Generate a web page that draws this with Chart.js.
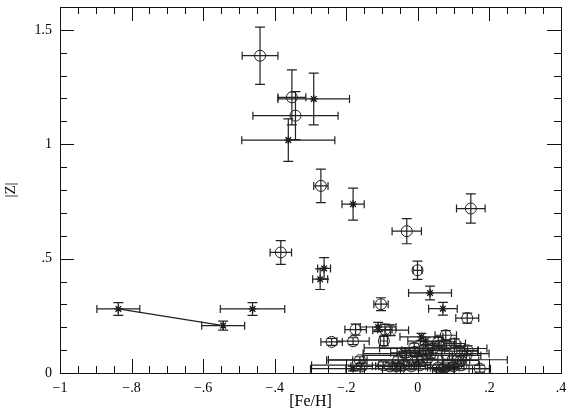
<!DOCTYPE html>
<html>
<head>
<meta charset="utf-8">
<script src="https://cdn.jsdelivr.net/npm/chart.js@4.4.1/dist/chart.umd.min.js"></script>
<style>
  body { margin: 0; background: #fff; }
</style>
</head>
<body>
<canvas id="zChart" width="570" height="410"></canvas>
<script>
// open circles: [Fe/H], |Z| and their errors
var circX    = [-0.441, -0.352, -0.342, -0.271, 0.148, -0.031, -0.383, -0.001, -0.103, 0.138,
                -0.174, -0.092, -0.076, -0.241, -0.181, -0.095,
                0.057, 0.078, 0.080, 0.103, 0.117, 0.136, 0.139, 0.043, 0.015, -0.008,
                -0.032, -0.055, -0.162, -0.157, -0.097, -0.078, -0.060, -0.041, -0.018, 0.006,
                0.057, 0.075, 0.099, 0.122, 0.173, -0.036, -0.010, 0.036, 0.061, 0.098,
                0.120, 0.026, 0.000, -0.050, 0.023];
var circY    = [1.387, 1.205, 1.125, 0.818, 0.719, 0.620, 0.527, 0.449, 0.301, 0.240,
                0.190, 0.190, 0.187, 0.136, 0.139, 0.140,
                0.136, 0.165, 0.121, 0.129, 0.096, 0.077, 0.099, 0.107, 0.099, 0.092,
                0.077, 0.056, 0.056, 0.029, 0.034, 0.029, 0.029, 0.034, 0.029, 0.034,
                0.024, 0.024, 0.029, 0.034, 0.019, 0.088, 0.110, 0.085, 0.120, 0.060,
                0.055, 0.060, 0.058, 0.019, 0.085];
var circXErr = [0.050, 0.039, 0.119, 0.020, 0.040, 0.041, 0.030, 0.012, 0.020, 0.032,
                0.030, 0.020, 0.050, 0.030, 0.045, 0.010,
                0.050, 0.030, 0.040, 0.030, 0.050, 0.040, 0.030, 0.150, 0.060, 0.050,
                0.120, 0.200, 0.020, 0.030, 0.200, 0.040, 0.050, 0.030, 0.040, 0.030,
                0.030, 0.040, 0.030, 0.050, 0.030, 0.040, 0.140, 0.030, 0.040, 0.030,
                0.050, 0.030, 0.250, 0.250, 0.176];
var circYErr = [0.125, 0.120, 0.105, 0.073, 0.064, 0.055, 0.052, 0.040, 0.028, 0.022,
                0.024, 0.024, 0.024, 0.015, 0.015, 0.020,
                0.020, 0.020, 0.020, 0.020, 0.020, 0.020, 0.020, 0.020, 0.020, 0.020,
                0.020, 0.015, 0.015, 0.015, 0.015, 0.015, 0.015, 0.015, 0.015, 0.015,
                0.015, 0.015, 0.015, 0.015, 0.015, 0.020, 0.020, 0.020, 0.020, 0.015,
                0.015, 0.015, 0.015, 0.010, 0.015];

// asterisks
var starX    = [-0.291, -0.362, -0.181, -0.262, -0.273, 0.034, 0.070, -0.837, -0.544, -0.462,
                -0.111, 0.010, 0.022, -0.181, 0.071];
var starY    = [1.198, 1.018, 0.738, 0.457, 0.410, 0.350, 0.281, 0.280, 0.207, 0.280,
                0.201, 0.158, 0.139, 0.019, 0.015];
var starXErr = [0.100, 0.130, 0.031, 0.018, 0.021, 0.060, 0.040, 0.060, 0.060, 0.090,
                0.050, 0.060, 0.050, 0.020, 0.030];
var starYErr = [0.113, 0.093, 0.070, 0.047, 0.045, 0.030, 0.028, 0.028, 0.020, 0.028,
                0.020, 0.015, 0.015, 0.010, 0.010];

// the two joined asterisks
var linkX = [-0.837, -0.544];
var linkY = [0.280, 0.207];

var xTickValues = [-1, -0.8, -0.6, -0.4, -0.2, 0, 0.2, 0.4];
var xTickLabels = ['\u22121', '\u2212.8', '\u2212.6', '\u2212.4', '\u2212.2', '0', '.2', '.4'];
var yTickValues = [0, 0.5, 1, 1.5];
var yTickLabels = ['0', '.5', '1', '1.5'];

function pts(xs, ys) {
    return xs.map(function (x, i) { return { x: x, y: ys[i] }; });
}

var serif = 'Liberation Serif';

// error bars with caps, drawn through the markers
var errorBars = {
    id: 'errorBars',
    afterDatasetsDraw: function (chart) {
        var ctx = chart.ctx, xs = chart.scales.x, ys = chart.scales.y, a = chart.chartArea;
        ctx.save();
        ctx.beginPath();
        ctx.rect(a.left, a.top, a.right - a.left, a.bottom - a.top);
        ctx.clip();
        ctx.lineWidth = 1.2;
        ctx.strokeStyle = '#222';
        chart.data.datasets.forEach(function (ds) {
            if (!ds.xErr) return;
            ds.data.forEach(function (p, i) {
                var px = xs.getPixelForValue(p.x), py = ys.getPixelForValue(p.y);
                var x0 = xs.getPixelForValue(p.x - ds.xErr[i]), x1 = xs.getPixelForValue(p.x + ds.xErr[i]);
                var y0 = ys.getPixelForValue(p.y - ds.yErr[i]), y1 = ys.getPixelForValue(p.y + ds.yErr[i]);
                ctx.beginPath();
                ctx.moveTo(x0, py); ctx.lineTo(x1, py);
                ctx.moveTo(x0, py - 4); ctx.lineTo(x0, py + 4);
                ctx.moveTo(x1, py - 4); ctx.lineTo(x1, py + 4);
                ctx.moveTo(px, y0); ctx.lineTo(px, y1);
                ctx.moveTo(px - 5, y0); ctx.lineTo(px + 5, y0);
                ctx.moveTo(px - 5, y1); ctx.lineTo(px + 5, y1);
                ctx.stroke();
            });
        });
        ctx.restore();
    }
};

// box round the plot with inward ticks on all four sides
var frameTicks = {
    id: 'frameTicks',
    afterDraw: function (chart) {
        var ctx = chart.ctx, a = chart.chartArea, xs = chart.scales.x, ys = chart.scales.y;
        ctx.save();
        ctx.strokeStyle = '#111';
        ctx.lineWidth = 1;
        ctx.strokeRect(a.left + 0.5, a.top + 0.5, a.right - a.left, a.bottom - a.top);
        ctx.beginPath();
        var k, v, len, p;
        for (k = 0; k <= 28; k++) {
            v = -1 + k * 0.05;
            len = (k % 4 === 0) ? 14 : 7;
            p = Math.round(xs.getPixelForValue(v)) + 0.5;
            ctx.moveTo(p, a.bottom); ctx.lineTo(p, a.bottom - len);
            ctx.moveTo(p, a.top); ctx.lineTo(p, a.top + len);
        }
        for (k = 0; k <= 16; k++) {
            v = k * 0.1;
            len = (k % 5 === 0) ? 14 : 7;
            p = Math.round(ys.getPixelForValue(v)) + 0.5;
            ctx.moveTo(a.left, p); ctx.lineTo(a.left + len, p);
            ctx.moveTo(a.right, p); ctx.lineTo(a.right - len, p);
        }
        ctx.stroke();
        ctx.restore();
    }
};

var ctx = document.getElementById('zChart').getContext('2d');
var zChart = new Chart(ctx, {
    type: 'scatter',
    data: {
        datasets: [{
            label: 'link',
            data: pts(linkX, linkY),
            showLine: true,
            borderColor: '#222',
            borderWidth: 1.2,
            pointRadius: 0
        }, {
            label: 'circles',
            data: pts(circX, circY),
            xErr: circXErr,
            yErr: circYErr,
            pointStyle: 'circle',
            pointRadius: 5.5,
            borderColor: '#222',
            borderWidth: 1,
            backgroundColor: 'rgba(0,0,0,0)'
        }, {
            label: 'stars',
            data: pts(starX, starY),
            xErr: starXErr,
            yErr: starYErr,
            pointStyle: 'star',
            pointRadius: 4,
            borderColor: '#111',
            borderWidth: 1.3,
            backgroundColor: '#111'
        }]
    },
    options: {
        responsive: false,
        animation: false,
        devicePixelRatio: 1,
        layout: { padding: { top: 7, right: 9, left: 0, bottom: 0 } },
        scales: {
            x: {
                type: 'linear',
                min: -1,
                max: 0.4,
                grid: { display: false, drawTicks: false },
                border: { display: false },
                afterBuildTicks: function (s) {
                    s.ticks = xTickValues.map(function (v) { return { value: v }; });
                },
                afterFit: function (s) {
                    s.height = 37;
                    s.paddingLeft = 0;
                    s.paddingRight = 0;
                },
                ticks: {
                    padding: 7,
                    color: '#000',
                    font: { family: serif, size: 14 },
                    maxRotation: 0,
                    autoSkip: false,
                    callback: function (v, i) { return xTickLabels[i]; }
                },
                title: {
                    display: true,
                    text: '[Fe/H]',
                    color: '#000',
                    font: { family: serif, size: 16 },
                    padding: { top: 0, bottom: -1 }
                }
            },
            y: {
                type: 'linear',
                min: 0,
                max: 1.6,
                grid: { display: false, drawTicks: false },
                border: { display: false },
                afterBuildTicks: function (s) {
                    s.ticks = yTickValues.map(function (v) { return { value: v }; });
                },
                afterFit: function (s) {
                    s.width = 60;
                    s.paddingTop = 0;
                    s.paddingBottom = 0;
                },
                ticks: {
                    padding: 8,
                    color: '#000',
                    font: { family: serif, size: 14 },
                    autoSkip: false,
                    callback: function (v, i) { return yTickLabels[i]; }
                },
                title: {
                    display: true,
                    text: '|Z|',
                    color: '#000',
                    font: { family: serif, size: 15 },
                    padding: { top: 2, bottom: 0 }
                }
            }
        },
        plugins: {
            legend: { display: false },
            tooltip: { enabled: false },
            title: { display: false }
        }
    },
    plugins: [errorBars, frameTicks]
});
</script>
</body>
</html>
